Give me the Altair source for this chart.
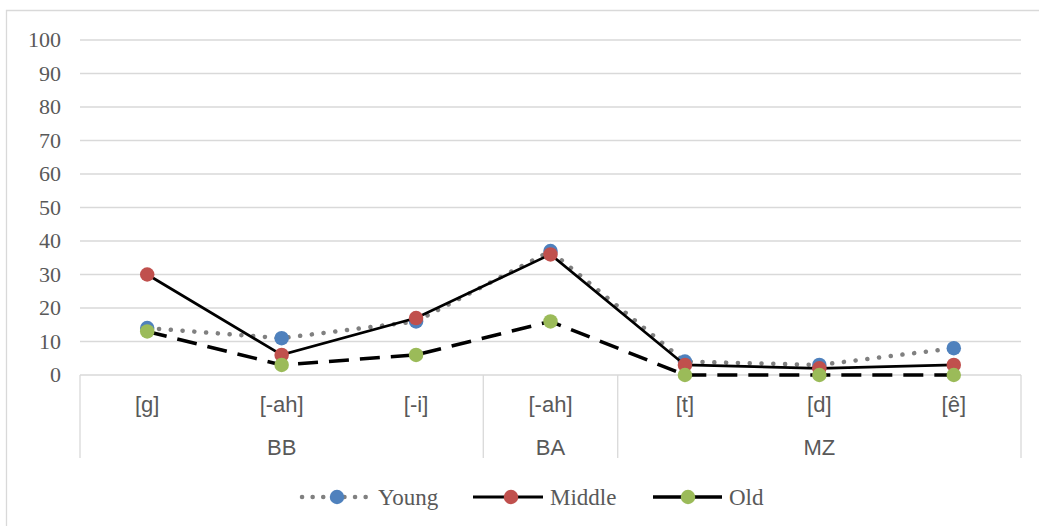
import altair as alt
import pandas as pd

categories = ["[g]", "[-ah]", "[-i]", "[-ah]", "[t]", "[d]", "[ê]"]
groups = ["BB", "BB", "BB", "BA", "MZ", "MZ", "MZ"]
young = [14, 11, 16, 37, 4, 3, 8]
middle = [30, 6, 17, 36, 3, 2, 3]
old = [13, 3, 6, 16, 0, 0, 0]
y_ticks = [0, 10, 20, 30, 40, 50, 60, 70, 80, 90, 100]

n = len(categories)
pos = [i + 0.5 for i in range(n)]

xs = alt.Scale(domain=[0, n], nice=False, zero=False)
ys = alt.Scale(domain=[0, 100], nice=False)

TXT = "#595959"
GRID = "#d9d9d9"

def series_df(vals):
    return pd.DataFrame({"pos": pos, "v": vals})

tick_df = pd.DataFrame({"v": y_ticks, "lbl": [str(t) for t in y_ticks]})

# gridlines
grid = alt.Chart(tick_df).mark_rule(color=GRID, strokeWidth=1.3).encode(
    y=alt.Y("v:Q", scale=ys, axis=None),
    x=alt.value(0), x2=alt.value(941),
)
# y labels
ylab = alt.Chart(tick_df).mark_text(
    font="Liberation Serif", fontSize=22, color=TXT, align="right", baseline="middle"
).encode(y=alt.Y("v:Q", scale=ys, axis=None), x=alt.value(-19), text="lbl:N")

# separators (group boundaries)
bounds = [0]
for i in range(1, n + 1):
    if i == n or groups[i] != groups[i - 1]:
        bounds.append(i)
sep = alt.Chart(pd.DataFrame({"b": bounds})).mark_rule(color=GRID, strokeWidth=1.3).encode(
    x=alt.X("b:Q", scale=xs, axis=None), y=alt.value(335), y2=alt.value(418)
)

cat_lbl = alt.Chart(pd.DataFrame({"pos": pos, "c": categories})).mark_text(
    font="Liberation Sans", fontSize=22, color=TXT, baseline="middle"
).encode(x=alt.X("pos:Q", scale=xs, axis=None), y=alt.value(365), text="c:N")

gdf = pd.DataFrame({"pos": pos, "g": groups})
gcent = gdf.groupby("g", sort=False)["pos"].mean().reset_index()
grp_lbl = alt.Chart(gcent).mark_text(
    font="Liberation Sans", fontSize=22, color=TXT, baseline="middle"
).encode(x=alt.X("pos:Q", scale=xs, axis=None), y=alt.value(408), text="g:N")

BLUE, RED, GREEN = "#4f81bd", "#c0504d", "#9bbb59"

def line_layer(vals, **kw):
    return alt.Chart(series_df(vals)).mark_line(**kw).encode(
        x=alt.X("pos:Q", scale=xs, axis=None), y=alt.Y("v:Q", scale=ys, axis=None))

def pt_layer(vals, color):
    return alt.Chart(series_df(vals)).mark_circle(size=210, color=color, opacity=1).encode(
        x=alt.X("pos:Q", scale=xs, axis=None), y=alt.Y("v:Q", scale=ys, axis=None))

y_line = line_layer(young, color="#808080", strokeWidth=4.5, strokeDash=[0.1, 11.7], strokeCap="round")
m_line = line_layer(middle, color="#000000", strokeWidth=2.7)
o_line = line_layer(old, color="#000000", strokeWidth=3.5, strokeDash=[20, 11])

# legend
LY = 457
def leg_line(x1, x2, **kw):
    return alt.Chart(pd.DataFrame({"a": [0]})).mark_rule(**kw).encode(
        x=alt.value(x1), x2=alt.value(x2), y=alt.value(LY))

def leg_pt(x, color):
    return alt.Chart(pd.DataFrame({"a": [0]})).mark_circle(size=210, color=color, opacity=1).encode(
        x=alt.value(x), y=alt.value(LY))

def leg_txt(x, t):
    return alt.Chart(pd.DataFrame({"t": [t]})).mark_text(
        font="Liberation Serif", fontSize=23, color=TXT, align="left", baseline="middle"
    ).encode(x=alt.value(x), y=alt.value(LY + 1), text="t:N")

legend = [
    leg_line(222, 287, color="#808080", strokeWidth=4.5, strokeDash=[0.1, 10.5], strokeCap="round"),
    leg_pt(257, BLUE), leg_txt(298, "Young"),
    leg_line(393, 463, color="#000000", strokeWidth=3),
    leg_pt(431, RED), leg_txt(470, "Middle"),
    leg_line(573, 642, color="#000000", strokeWidth=3.5),
    leg_pt(608, GREEN), leg_txt(649, "Old"),
]

border = alt.Chart(pd.DataFrame({"a": [0]})).mark_rect(
    fill=None, stroke="#d9d9d9", strokeWidth=1.3
).encode(x=alt.value(-73.5), x2=alt.value(1000), y=alt.value(-29.5), y2=alt.value(520))

chart = alt.layer(
    border, grid, ylab, sep, cat_lbl, grp_lbl,
    y_line, pt_layer(young, BLUE),
    m_line, pt_layer(middle, RED),
    o_line, pt_layer(old, GREEN),
    *legend,
).properties(
    width=941, height=335,
    autosize=alt.AutoSizeParams(type="none"),
    padding={"left": 80, "top": 40, "right": 18, "bottom": 151},
    background="white",
).configure_view(stroke=None)

chart.save("out.html", embed_options={"renderer": "svg", "actions": False})
